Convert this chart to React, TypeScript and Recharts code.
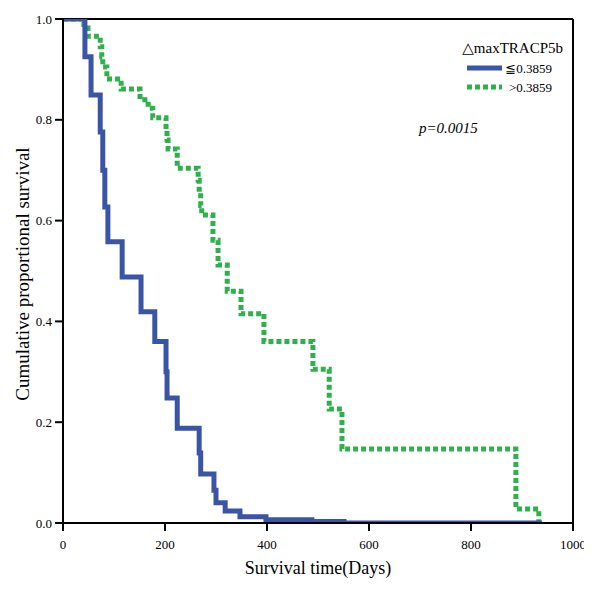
import React from 'react';
import { LineChart, Line, XAxis, YAxis, ReferenceLine, Label } from 'recharts';

// Kaplan-Meier steps (day of step, survival after step)
const lowDays = [0, 43, 55, 73, 78, 82, 88, 116, 153, 180, 202, 204, 224, 267, 270, 296, 300, 318, 347, 398, 488, 551, 939];
const lowSurv = [1, 0.925, 0.849, 0.776, 0.7, 0.627, 0.558, 0.488, 0.419, 0.36, 0.3, 0.248, 0.188, 0.139, 0.097, 0.065, 0.04, 0.024, 0.0125, 0.0065, 0.003, 0, 0];

const highDays = [0, 41, 49, 73, 76, 78, 86, 114, 151, 167, 176, 202, 204, 206, 224, 265, 267, 270, 272, 294, 304, 322, 349, 394, 490, 522, 547, 888, 933];
const highSurv = [1, 0.982, 0.966, 0.945, 0.925, 0.905, 0.881, 0.861, 0.84, 0.823, 0.804, 0.78, 0.76, 0.742, 0.704, 0.68, 0.655, 0.63, 0.611, 0.561, 0.512, 0.46, 0.415, 0.36, 0.305, 0.226, 0.147, 0.028, 0];

const xTicks = [0, 200, 400, 600, 800, 1000];
const yTicks = [0, 0.2, 0.4, 0.6, 0.8, 1.0];

const legendTitle = '△maxTRACP5b';
const lowLabel = '≦0.3859';
const highLabel = '>0.3859';
const pText = 'p=0.0015';
const xTitle = 'Survival time(Days)';
const yTitle = 'Cumulative proportional survival';

const BLUE = '#3B55A6';
const GREEN = '#2DB24B';
const FONT = 'Liberation Serif, DejaVu Serif, serif';

const lowData = lowDays.map((d, i) => ({ day: d, surv: lowSurv[i] }));
const highData = highDays.map((d, i) => ({ day: d, surv: highSurv[i] }));

const YTitle = () => {
  const cy = 266;
  const cx = 14;
  return (
    <text x={cx} y={cy} textAnchor="middle" dominantBaseline="central" transform={`rotate(-90, ${cx}, ${cy})`}
      style={{ fontFamily: FONT }} fontSize={19} fill="#000">{yTitle}</text>
  );
};

const XTitle = () => (
  <text x={310} y={560} textAnchor="middle" dominantBaseline="central"
    style={{ fontFamily: FONT }} fontSize={18} fill="#000">{xTitle}</text>
);

const XTick = (props: any) => {
  const { x, y, payload } = props;
  return (
    <text x={x} y={y + 11} textAnchor="middle" dominantBaseline="central"
      style={{ fontFamily: FONT }} fontSize={13} fill="#000">{payload.value}</text>
  );
};

const YTick = (props: any) => {
  const { x, y, payload } = props;
  return (
    <text x={x - 1} y={y} textAnchor="end" dominantBaseline="central"
      style={{ fontFamily: FONT }} fontSize={13} fill="#000">{Number(payload.value).toFixed(1)}</text>
  );
};

export default function App() {
  return (
    <div style={{ position: 'relative', width: 584, height: 584, fontFamily: FONT }}>
      <LineChart width={584} height={584} margin={{ top: 11, right: 19, left: 15, bottom: 29 }}>
        <XAxis type="number" dataKey="day" domain={[0, 1000]} ticks={xTicks} height={40}
          tick={<XTick />} tickSize={8}
          axisLine={{ stroke: '#000', strokeWidth: 2 }} tickLine={{ stroke: '#000', strokeWidth: 2 }}
          allowDataOverflow>
          <Label content={XTitle} />
        </XAxis>
        <YAxis type="number" dataKey="surv" domain={[0, 1]} ticks={yTicks} width={40}
          tick={<YTick />} tickSize={8}
          axisLine={{ stroke: '#000', strokeWidth: 2 }} tickLine={{ stroke: '#000', strokeWidth: 2 }}
          allowDataOverflow>
          <Label content={YTitle} />
        </YAxis>
        <ReferenceLine y={1} stroke="#000" strokeWidth={2} />
        <ReferenceLine x={1000} stroke="#000" strokeWidth={2} />
        <Line data={highData} dataKey="surv" type="stepAfter" stroke={GREEN} strokeWidth={5}
          strokeDasharray="5 3" dot={false} isAnimationActive={false} />
        <Line data={lowData} dataKey="surv" type="stepAfter" stroke={BLUE} strokeWidth={5}
          dot={false} isAnimationActive={false} />
      </LineChart>
      <svg width={584} height={584} style={{ position: 'absolute', left: 0, top: 0, pointerEvents: 'none', fontFamily: FONT }}>
        <text x={555} y={45} textAnchor="end" fontSize={15} fill="#000">{legendTitle}</text>
        <line x1={459} x2={494} y1={60} y2={60} stroke={BLUE} strokeWidth={5} />
        <text x={544} y={64.5} textAnchor="end" fontSize={13} fill="#000">{lowLabel}</text>
        <line x1={459} x2={494} y1={79} y2={79} stroke={GREEN} strokeWidth={5} strokeDasharray="5 3" />
        <text x={544} y={83.5} textAnchor="end" fontSize={13} fill="#000">{highLabel}</text>
        <text x={411} y={125} fontSize={15} fontStyle="italic" fill="#000">{pText}</text>
      </svg>
    </div>
  );
}
